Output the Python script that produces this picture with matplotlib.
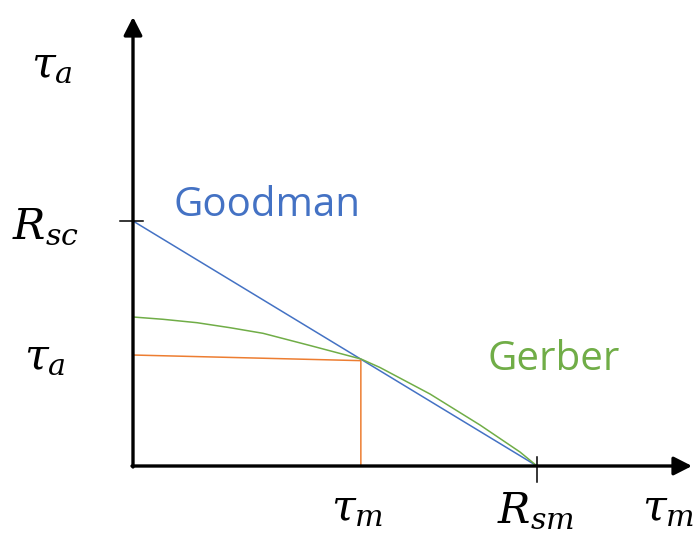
import matplotlib
matplotlib.use("Agg")
import matplotlib.pyplot as plt
import numpy as np

plt.rcParams['mathtext.fontset'] = 'dejavuserif'

# Data (normalised: R_sm = 1 on x, R_sc = 1 on y)
goodman_x = [0.0, 1.0]
goodman_y = [1.0, 0.0]

gerber_x = [0.0, 0.0743, 0.1584, 0.2401, 0.3218, 0.4381, 0.5644,
            0.6114, 0.7351, 0.8589, 0.9579, 1.0]
gerber_y = [0.6082, 0.5988, 0.5849, 0.5645, 0.5416, 0.4918, 0.4367,
            0.4020, 0.2939, 0.1673, 0.0571, 0.0]

op_x = [0.0, 0.564, 0.564]
op_y = [0.453, 0.430, 0.0]

BLUE = '#4472C4'
GREEN = '#70AD47'
ORANGE = '#ED7D31'

W, H = 695, 536
fig = plt.figure(figsize=(W / 100, H / 100), dpi=100)
ax = fig.add_axes([0, 0, 1, 1])
ax.axis('off')

# pixel mapping: origin at px (133, 466); x unit 404 px; y unit 245 px
x0, y0, sx, sy = 133, 466, 404, 245
ax.set_xlim(-x0 / sx, (W - x0) / sx)
ax.set_ylim(-(H - y0) / sy, y0 / sy)

def px(x):
    return (x - x0) / sx

def py(y):
    return (y0 - y) / sy

# curves
ax.plot(goodman_x, goodman_y, color=BLUE, lw=1.1, zorder=3)
ax.plot(gerber_x, gerber_y, color=GREEN, lw=1.1, zorder=3, solid_joinstyle='round')
ax.plot(op_x, op_y, color=ORANGE, lw=1.1, zorder=2)

# axes with arrows
arrow = dict(arrowstyle='-|>,head_length=0.55,head_width=0.28', lw=2.4,
             color='black', mutation_scale=20, shrinkA=0, shrinkB=0)
ax.annotate('', xy=(px(692), 0), xytext=(px(132), 0), arrowprops=arrow, zorder=5)
ax.annotate('', xy=(0, py(17)), xytext=(0, py(467)), arrowprops=arrow, zorder=5)

# ticks
ax.plot([px(120), px(143)], [1, 1], color='black', lw=1.1, zorder=4)
ax.plot([1, 1], [py(457), py(482)], color='black', lw=1.1, zorder=4)

# math labels
mfs = 31
ax.text(px(52), py(64), r'$\tau_a$', fontsize=mfs, ha='center', va='center')
ax.text(px(45), py(226), r'$R_{sc}$', fontsize=mfs, ha='center', va='center')
ax.text(px(45), py(356), r'$\tau_a$', fontsize=mfs, ha='center', va='center')
ax.text(px(357), py(508), r'$\tau_m$', fontsize=mfs, ha='center', va='center')
ax.text(px(535), py(510), r'$R_{sm}$', fontsize=mfs, ha='center', va='center')
ax.text(px(642), py(508), r'$\tau_m$', fontsize=mfs, ha='left', va='center')

# series labels
ax.text(px(173), py(215.5), 'Goodman', fontsize=29, color=BLUE, family='Open Sans',
        ha='left', va='baseline')
ax.text(px(487), py(370), 'Gerber', fontsize=29, color=GREEN, family='Open Sans',
        ha='left', va='baseline')

fig.savefig('out.png', dpi=100)
